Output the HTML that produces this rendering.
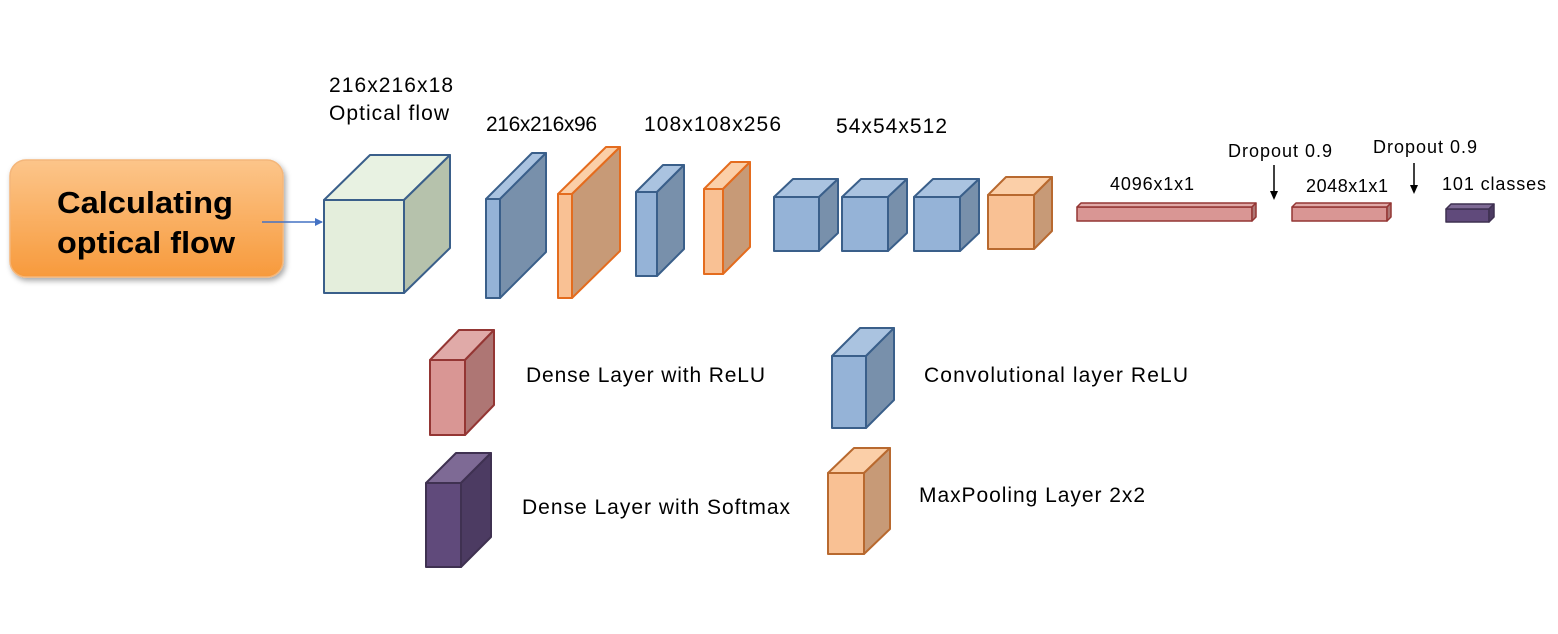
<!DOCTYPE html>
<html><head><meta charset="utf-8"><style>
html,body{margin:0;padding:0;background:#fff;width:1558px;height:634px;overflow:hidden}
svg text{font-family:"Liberation Sans",Arial,sans-serif;fill:#000}
</style></head><body>
<svg width="1558" height="634" viewBox="0 0 1558 634" xmlns="http://www.w3.org/2000/svg">
<defs>
<linearGradient id="og" x1="0" y1="0" x2="0" y2="1">
<stop offset="0" stop-color="#fcc58a"/><stop offset="1" stop-color="#f79a3c"/></linearGradient>
<filter id="sh" x="-10%" y="-10%" width="130%" height="140%"><feDropShadow dx="2" dy="3" stdDeviation="3" flood-color="#000" flood-opacity="0.35"/></filter>
<marker id="ah" markerWidth="8" markerHeight="8" refX="7" refY="4" orient="auto" markerUnits="userSpaceOnUse"><path d="M0,0 L8,4 L0,8 z" fill="#4472c4"/></marker>
</defs>
<rect x="10" y="160" width="273" height="117" rx="16" fill="url(#og)" stroke="#f4b67a" stroke-width="1.5" filter="url(#sh)"/>
<text x="57" y="213" font-size="31" font-weight="bold" textLength="176" lengthAdjust="spacingAndGlyphs">Calculating</text>
<text x="57" y="253" font-size="31" font-weight="bold" textLength="178" lengthAdjust="spacingAndGlyphs">optical flow</text>
<line x1="262" y1="222" x2="322" y2="222" stroke="#4472c4" stroke-width="1.5" marker-end="url(#ah)"/>

<g stroke-width="2" stroke-linejoin="round">
<g stroke="#3a5f8a"><rect x="324" y="200" width="80" height="93" fill="#e4eedc"/><polygon points="324,200 370,155 450,155 404,200" fill="#e8f2e2"/><polygon points="404,200 450,155 450,248 404,293" fill="#b6c2ac"/></g>
<g stroke="#3a5f8a"><rect x="486" y="199" width="14" height="99" fill="#95b3d7"/><polygon points="486,199 532,153 546,153 500,199" fill="#aac3e0"/><polygon points="500,199 546,153 546,252 500,298" fill="#7890ab"/></g>
<g stroke="#e46c1e"><rect x="558" y="194" width="14" height="104" fill="#f9c194"/><polygon points="558,194 606,147 620,147 572,194" fill="#fbcfa8"/><polygon points="572,194 620,147 620,251 572,298" fill="#c79a77"/></g>
<g stroke="#3a5f8a"><rect x="636" y="192" width="21" height="84" fill="#95b3d7"/><polygon points="636,192 663,165 684,165 657,192" fill="#aac3e0"/><polygon points="657,192 684,165 684,249 657,276" fill="#7890ab"/></g>
<g stroke="#e46c1e"><rect x="704" y="189" width="19" height="85" fill="#f9c194"/><polygon points="704,189 731,162 750,162 723,189" fill="#fbcfa8"/><polygon points="723,189 750,162 750,247 723,274" fill="#c79a77"/></g>
<g stroke="#3a5f8a">
<rect x="774" y="197" width="45" height="54" fill="#95b3d7"/><polygon points="774,197 793,179 838,179 819,197" fill="#aac3e0"/><polygon points="819,197 838,179 838,233 819,251" fill="#7890ab"/>
<rect x="842" y="197" width="46" height="54" fill="#95b3d7"/><polygon points="842,197 861,179 907,179 888,197" fill="#aac3e0"/><polygon points="888,197 907,179 907,233 888,251" fill="#7890ab"/>
<rect x="914" y="197" width="46" height="54" fill="#95b3d7"/><polygon points="914,197 933,179 979,179 960,197" fill="#aac3e0"/><polygon points="960,197 979,179 979,233 960,251" fill="#7890ab"/>
</g>
<g stroke="#b8692f"><rect x="988" y="195" width="46" height="54" fill="#f9c194"/><polygon points="988,195 1006,177 1052,177 1034,195" fill="#fbcfa8"/><polygon points="1034,195 1052,177 1052,231 1034,249" fill="#c79a77"/></g>
<g stroke="#943634" stroke-width="1.5">
<rect x="1077" y="207" width="175" height="14" fill="#d99694"/><polygon points="1077,207 1081,203 1256,203 1252,207" fill="#e0aaa8"/><polygon points="1252,207 1256,203 1256,217 1252,221" fill="#ae7674"/>
<rect x="1292" y="207" width="95" height="14" fill="#d99694"/><polygon points="1292,207 1296,203 1391,203 1387,207" fill="#e0aaa8"/><polygon points="1387,207 1391,203 1391,217 1387,221" fill="#ae7674"/>
</g>
<g stroke="#3f3151" stroke-width="1.5"><rect x="1446" y="209" width="43" height="13" fill="#604a7b"/><polygon points="1446,209 1451,204 1494,204 1489,209" fill="#7e6a95"/><polygon points="1489,209 1494,204 1494,217 1489,222" fill="#4c3b62"/></g>
<g stroke="#943634"><rect x="430" y="360" width="35" height="75" fill="#d99694"/><polygon points="430,360 459,330 494,330 465,360" fill="#e0aaa8"/><polygon points="465,360 494,330 494,405 465,435" fill="#ae7674"/></g>
<g stroke="#3a5f8a"><rect x="832" y="356" width="34" height="72" fill="#95b3d7"/><polygon points="832,356 860,328 894,328 866,356" fill="#aac3e0"/><polygon points="866,356 894,328 894,400 866,428" fill="#7890ab"/></g>
<g stroke="#3f3151"><rect x="426" y="483" width="35" height="84" fill="#604a7b"/><polygon points="426,483 456,453 491,453 461,483" fill="#7e6a95"/><polygon points="461,483 491,453 491,537 461,567" fill="#4c3b62"/></g>
<g stroke="#b8692f"><rect x="828" y="473" width="36" height="81" fill="#f9c194"/><polygon points="828,473 854,448 890,448 864,473" fill="#fbcfa8"/><polygon points="864,473 890,448 890,529 864,554" fill="#c79a77"/></g>
</g>

<line x1="1274" y1="165" x2="1274" y2="192" stroke="#000" stroke-width="1.5"/>
<polygon points="1270,191 1278,191 1274,200" fill="#000"/>
<line x1="1414" y1="163" x2="1414" y2="186" stroke="#000" stroke-width="1.5"/>
<polygon points="1410,185 1418,185 1414,194" fill="#000"/>

<g font-size="21" lengthAdjust="spacingAndGlyphs">
<text x="329" y="92" textLength="124">216x216x18</text>
<text x="329" y="120" textLength="120">Optical flow</text>
<text x="486" y="131" textLength="111">216x216x96</text>
<text x="644" y="131" textLength="137">108x108x256</text>
<text x="836" y="133" textLength="111">54x54x512</text>
<text x="526" y="382" textLength="239">Dense Layer with ReLU</text>
<text x="924" y="382" textLength="264">Convolutional layer  ReLU</text>
<text x="522" y="514" textLength="268">Dense Layer with Softmax</text>
<text x="919" y="502" textLength="226">MaxPooling Layer 2x2</text>
</g>
<g font-size="18">
<text x="1228" y="157" textLength="104">Dropout 0.9</text>
<text x="1373" y="153" textLength="104">Dropout 0.9</text>
<text x="1110" y="190" textLength="84">4096x1x1</text>
<text x="1306" y="192" textLength="82">2048x1x1</text>
<text x="1442" y="190" textLength="104">101 classes</text>
</g>
</svg>
</body></html>
